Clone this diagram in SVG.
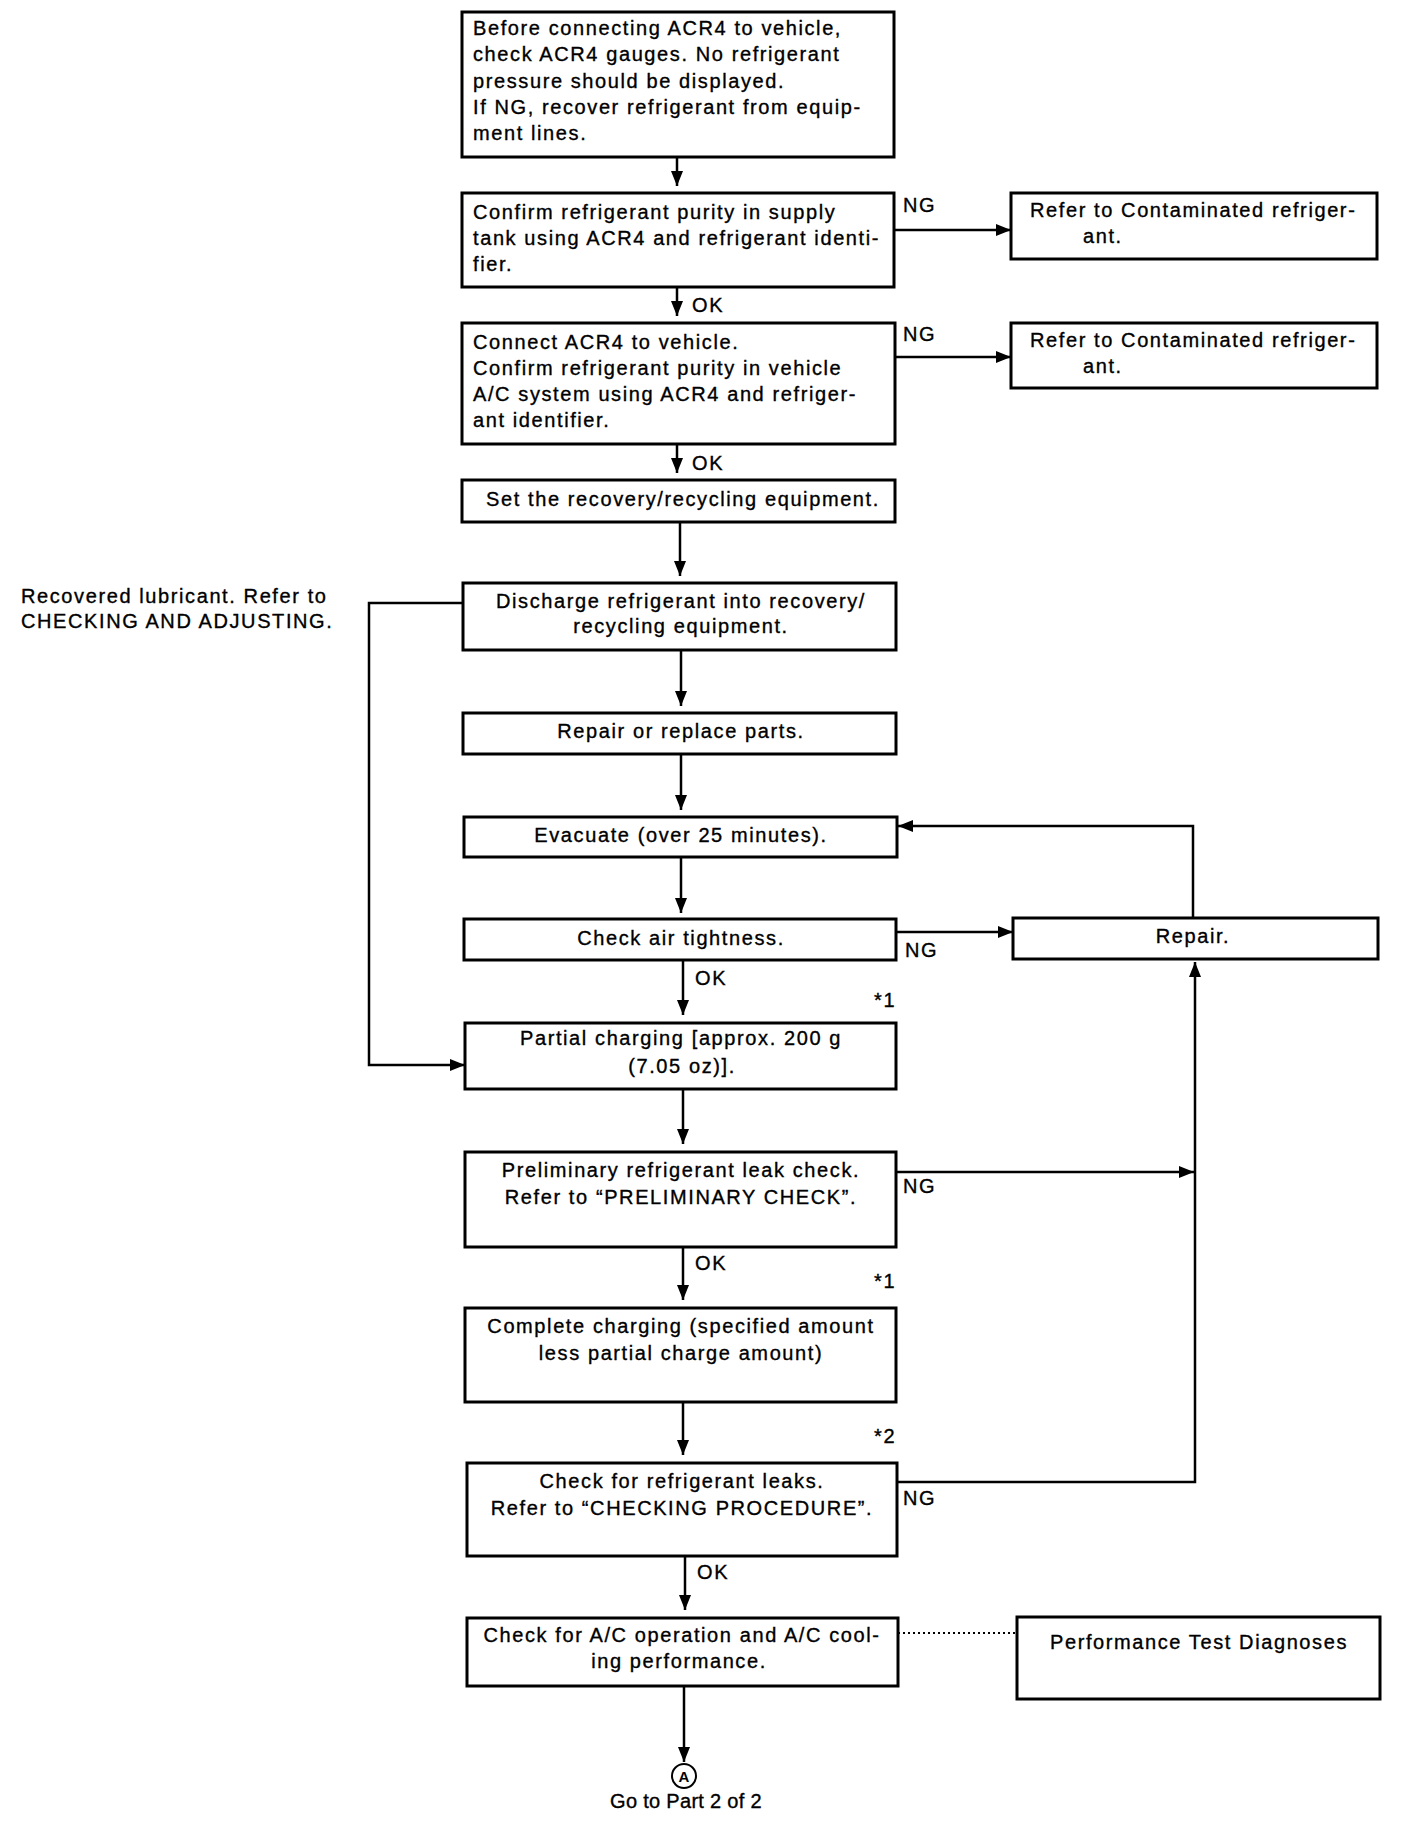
<svg xmlns="http://www.w3.org/2000/svg" width="1408" height="1832" viewBox="0 0 1408 1832">
<style>
.box{fill:#fff;stroke:#000;stroke-width:3}
.t{font-family:"Liberation Sans",Arial,Helvetica,sans-serif;font-size:20px;letter-spacing:1.6px;fill:#000;stroke:#000;stroke-width:0.35}
.c{text-anchor:middle}
.ln{fill:none;stroke:#000;stroke-width:2.5}
.dot{fill:none;stroke:#000;stroke-width:2;stroke-dasharray:2 3}
</style>
<defs>
<marker id="ah" markerUnits="userSpaceOnUse" markerWidth="15" markerHeight="12" refX="15" refY="6" orient="auto">
<path d="M0,0 L15,6 L0,12 z" fill="#000"/>
</marker>
</defs>
<rect width="1408" height="1832" fill="#fff"/>

<g id="connectors">
<line class="ln" x1="677" y1="157" x2="677" y2="186" marker-end="url(#ah)"/>
<line class="ln" x1="677" y1="287" x2="677" y2="316" marker-end="url(#ah)"/>
<line class="ln" x1="677" y1="444" x2="677" y2="473" marker-end="url(#ah)"/>
<line class="ln" x1="680" y1="522" x2="680" y2="576" marker-end="url(#ah)"/>
<line class="ln" x1="681" y1="650" x2="681" y2="706" marker-end="url(#ah)"/>
<line class="ln" x1="681" y1="754" x2="681" y2="810" marker-end="url(#ah)"/>
<line class="ln" x1="681" y1="857" x2="681" y2="913" marker-end="url(#ah)"/>
<line class="ln" x1="683" y1="960" x2="683" y2="1015" marker-end="url(#ah)"/>
<line class="ln" x1="683" y1="1089" x2="683" y2="1144" marker-end="url(#ah)"/>
<line class="ln" x1="683" y1="1247" x2="683" y2="1300" marker-end="url(#ah)"/>
<line class="ln" x1="683" y1="1402" x2="683" y2="1455" marker-end="url(#ah)"/>
<line class="ln" x1="685" y1="1556" x2="685" y2="1610" marker-end="url(#ah)"/>
<line class="ln" x1="684" y1="1686" x2="684" y2="1762" marker-end="url(#ah)"/>
<line class="ln" x1="895" y1="230" x2="1011" y2="230" marker-end="url(#ah)"/>
<line class="ln" x1="896" y1="357" x2="1011" y2="357" marker-end="url(#ah)"/>
<line class="ln" x1="896" y1="932" x2="1013" y2="932" marker-end="url(#ah)"/>
<polyline class="ln" points="1193,918 1193,826 898,826" marker-end="url(#ah)"/>
<line class="ln" x1="896" y1="1172" x2="1194" y2="1172" marker-end="url(#ah)"/>
<polyline class="ln" points="897,1482 1195,1482 1195,962" marker-end="url(#ah)"/>
<polyline class="ln" points="463,603 369,603 369,1065 465,1065" marker-end="url(#ah)"/>
<line class="dot" x1="898" y1="1633" x2="1017" y2="1633"/>
</g>

<g id="labels">
<text class="t" x="692" y="312">OK</text>
<text class="t" x="692" y="470">OK</text>
<text class="t" x="903" y="212">NG</text>
<text class="t" x="903" y="341">NG</text>
<text class="t" x="905" y="957">NG</text>
<text class="t" x="695" y="985">OK</text>
<text class="t" x="874" y="1007">*1</text>
<text class="t" x="903" y="1193">NG</text>
<text class="t" x="695" y="1270">OK</text>
<text class="t" x="874" y="1288">*1</text>
<text class="t" x="874" y="1443">*2</text>
<text class="t" x="903" y="1505">NG</text>
<text class="t" x="697" y="1579">OK</text>
</g>

<g id="n1">
<rect class="box" x="462" y="12" width="432" height="145"/>
<text class="t" x="473" y="35">Before connecting ACR4 to vehicle,</text>
<text class="t" x="473" y="61">check ACR4 gauges. No refrigerant</text>
<text class="t" x="473" y="88">pressure should be displayed.</text>
<text class="t" x="473" y="114">If NG, recover refrigerant from equip-</text>
<text class="t" x="473" y="140">ment lines.</text>
</g>

<g id="n2">
<rect class="box" x="462" y="193" width="432" height="94"/>
<text class="t" x="473" y="219">Confirm refrigerant purity in supply</text>
<text class="t" x="473" y="245">tank using ACR4 and refrigerant identi-</text>
<text class="t" x="473" y="271">fier.</text>
</g>

<g id="n2ng">
<rect class="box" x="1011" y="193" width="366" height="66"/>
<text class="t" x="1030" y="217">Refer to Contaminated refriger-</text>
<text class="t" x="1083" y="243">ant.</text>
</g>

<g id="n3">
<rect class="box" x="462" y="323" width="433" height="121"/>
<text class="t" x="473" y="349">Connect ACR4 to vehicle.</text>
<text class="t" x="473" y="375">Confirm refrigerant purity in vehicle</text>
<text class="t" x="473" y="401">A/C system using ACR4 and refriger-</text>
<text class="t" x="473" y="427">ant identifier.</text>
</g>

<g id="n3ng">
<rect class="box" x="1011" y="323" width="366" height="65"/>
<text class="t" x="1030" y="347">Refer to Contaminated refriger-</text>
<text class="t" x="1083" y="373">ant.</text>
</g>

<g id="n4">
<rect class="box" x="462" y="480" width="433" height="42"/>
<text class="t c" x="683" y="506">Set the recovery/recycling equipment.</text>
</g>

<g id="n5">
<rect class="box" x="463" y="583" width="433" height="67"/>
<text class="t c" x="681" y="608">Discharge refrigerant into recovery/</text>
<text class="t c" x="681" y="633">recycling equipment.</text>
</g>

<g id="note">
<text class="t" x="21" y="603">Recovered lubricant. Refer to</text>
<text class="t" x="21" y="628">CHECKING AND ADJUSTING.</text>
</g>

<g id="n6">
<rect class="box" x="463" y="713" width="433" height="41"/>
<text class="t c" x="681" y="738">Repair or replace parts.</text>
</g>

<g id="n7">
<rect class="box" x="464" y="817" width="433" height="40"/>
<text class="t c" x="681" y="842">Evacuate (over 25 minutes).</text>
</g>

<g id="n8">
<rect class="box" x="464" y="919" width="432" height="41"/>
<text class="t c" x="681" y="945">Check air tightness.</text>
</g>

<g id="n8ng">
<rect class="box" x="1013" y="918" width="365" height="41"/>
<text class="t c" x="1193" y="943">Repair.</text>
</g>

<g id="n9">
<rect class="box" x="465" y="1023" width="431" height="66"/>
<text class="t c" x="681" y="1045">Partial charging [approx. 200 g</text>
<text class="t c" x="682" y="1073">(7.05 oz)].</text>
</g>

<g id="n10">
<rect class="box" x="465" y="1152" width="431" height="95"/>
<text class="t c" x="681" y="1177">Preliminary refrigerant leak check.</text>
<text class="t c" x="681" y="1204">Refer to “PRELIMINARY CHECK”.</text>
</g>

<g id="n11">
<rect class="box" x="465" y="1308" width="431" height="94"/>
<text class="t c" x="681" y="1333">Complete charging (specified amount</text>
<text class="t c" x="681" y="1360">less partial charge amount)</text>
</g>

<g id="n12">
<rect class="box" x="467" y="1463" width="430" height="93"/>
<text class="t c" x="682" y="1488">Check for refrigerant leaks.</text>
<text class="t c" x="682" y="1515">Refer to “CHECKING PROCEDURE”.</text>
</g>

<g id="n13">
<rect class="box" x="467" y="1618" width="431" height="68"/>
<text class="t c" x="682" y="1642">Check for A/C operation and A/C cool-</text>
<text class="t c" x="679" y="1668">ing performance.</text>
</g>

<g id="n13r">
<rect class="box" x="1017" y="1617" width="363" height="82"/>
<text class="t c" x="1199" y="1649">Performance Test Diagnoses</text>
</g>

<g id="nA">
<circle cx="684" cy="1776" r="12" fill="#fff" stroke="#000" stroke-width="2"/>
<text x="684" y="1781.5" text-anchor="middle" font-family="Liberation Sans, Arial, sans-serif" font-size="15" font-weight="bold">A</text>
<text class="t c" x="686" y="1808" style="letter-spacing:0.3px">Go to Part 2 of 2</text>
</g>
</svg>
